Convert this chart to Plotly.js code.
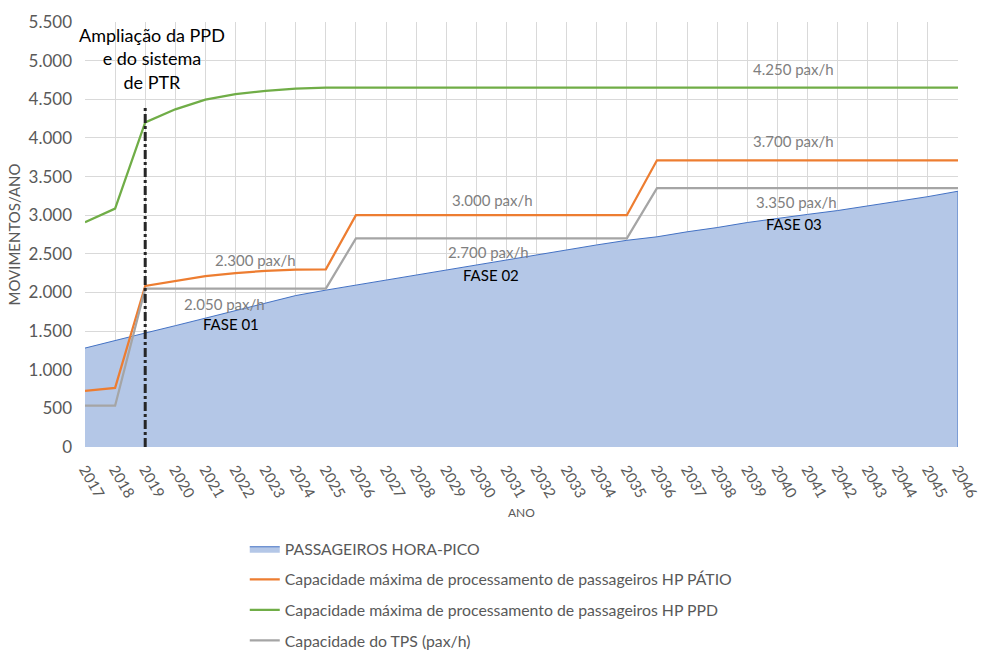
<!DOCTYPE html>
<html><head><meta charset="utf-8">
<script src="https://cdn.plot.ly/plotly-3.0.1.min.js"></script>
<style>html,body{margin:0;padding:0;background:#fff}#chart{width:989px;height:662px}</style>
</head><body><div id="chart"></div>
<script>
const years = [2017,2018,2019,2020,2021,2022,2023,2024,2025,2026,2027,2028,2029,2030,2031,2032,2033,2034,2035,2036,2037,2038,2039,2040,2041,2042,2043,2044,2045,2046];
const passageiros = [1280,1380,1475,1570,1665,1760,1860,1960,2030,2095,2160,2225,2290,2360,2425,2490,2555,2615,2675,2720,2785,2840,2905,2960,3010,3060,3120,3185,3240,3310];
const patio = [725,765,2085,2150,2210,2250,2280,2295,2300,3000,3000,3000,3000,3000,3000,3000,3000,3000,3000,3710,3710,3710,3710,3710,3710,3710,3710,3710,3710,3710];
const ppd = [2910,3085,4200,4370,4495,4568,4610,4637,4650,4650,4650,4650,4650,4650,4650,4650,4650,4650,4650,4650,4650,4650,4650,4650,4650,4650,4650,4650,4650,4650];
const tps = [535,535,2050,2050,2050,2050,2050,2050,2050,2700,2700,2700,2700,2700,2700,2700,2700,2700,2700,3350,3350,3350,3350,3350,3350,3350,3350,3350,3350,3350];
const seriesNames = ["PASSAGEIROS HORA-PICO","Capacidade máxima de processamento de passageiros HP PÁTIO","Capacidade máxima de processamento de passageiros HP PPD","Capacidade do TPS (pax/h)"];
const labels = [
  {text:"2.300 pax/h", x:2022.65, y:2420, color:"#7f7f7f"},
  {text:"2.050 pax/h", x:2021.65, y:1850, color:"#7f7f7f"},
  {text:"FASE 01", x:2021.85, y:1590, color:"#000000"},
  {text:"3.000 pax/h", x:2030.52, y:3196, color:"#7f7f7f"},
  {text:"2.700 pax/h", x:2030.39, y:2523, color:"#7f7f7f"},
  {text:"FASE 02", x:2030.49, y:2226, color:"#000000"},
  {text:"4.250 pax/h", x:2040.52, y:4891, color:"#7f7f7f"},
  {text:"3.700 pax/h", x:2040.55, y:3960, color:"#7f7f7f"},
  {text:"3.350 pax/h", x:2040.65, y:3170, color:"#7f7f7f"},
  {text:"FASE 03", x:2040.55, y:2886, color:"#000000"}
];
const eventYear = 2019;
const eventTop = 4400;
const eventText = "Ampliação da PPD<br>e do sistema<br>de PTR";

const FONT = "Lato, 'Open Sans', sans-serif";
const traces = [
  {x:years, y:passageiros, name:seriesNames[0], type:"scatter", mode:"lines", fill:"tozeroy",
   fillcolor:"rgba(180,199,231,1)", line:{color:"#4472c4", width:1}, legendgroup:"a"},
  {x:years, y:patio, name:seriesNames[1], type:"scatter", mode:"lines", line:{color:"#ed7d31", width:2.25}, legendgroup:"b"},
  {x:years, y:ppd, name:seriesNames[2], type:"scatter", mode:"lines", line:{color:"#70ad47", width:2.25}, legendgroup:"c"},
  {x:years, y:tps, name:seriesNames[3], type:"scatter", mode:"lines", line:{color:"#a5a5a5", width:2.25}, legendgroup:"d"}
];
const annotations = labels.map(l => ({text:l.text, x:l.x, y:l.y, xref:"x", yref:"y", showarrow:false,
  font:{family:FONT, size:15, color:l.color}}));
annotations.push({text:eventText, x:eventYear+0.23, y:5034, xref:"x", yref:"y", showarrow:false,
  font:{family:FONT, size:18, color:"#000"}, align:"center"});
annotations.push({text:"ANO", x:0.5, y:-0.153, xref:"paper", yref:"paper", yanchor:"middle", showarrow:false,
  font:{family:FONT, size:12, color:"#595959"}});
const layout = {
  width:989, height:662,
  margin:{l:85, r:31, t:22, b:215, autoexpand:false},
  paper_bgcolor:"#fff", plot_bgcolor:"#fff",
  separators:",.",
  font:{family:FONT, color:"#595959"},
  showlegend:true,
  legend:{x:0.183, y:(662-532)/662, yref:"container", xanchor:"left", yanchor:"top", orientation:"v", traceorder:"grouped",
    tracegroupgap:7, font:{family:FONT, size:15.8, color:"#595959"}},
  xaxis:{range:[2017,2046], tickmode:"array", tickvals:years, ticktext:years.map(String), tickangle:60,
    showgrid:true, gridcolor:"#d9d9d9", zeroline:false, showline:false, ticks:"", automargin:false,
    ticklabelstandoff:10,
    tickfont:{family:FONT, size:15, color:"#595959"}},
  yaxis:{range:[0,5500], dtick:500, tickformat:",d", showgrid:true, gridcolor:"#d9d9d9", zeroline:false,
    showline:false, ticks:"", automargin:false, ticklabelstandoff:12,
    tickfont:{family:FONT, size:17, color:"#595959"},
    title:{text:"MOVIMENTOS/ANO", font:{family:FONT, size:15, color:"#595959"}, standoff:4}},
  shapes:[
    {type:"line", xref:"x", yref:"y", x0:eventYear, x1:eventYear, y0:0, y1:eventTop,
     line:{color:"#262626", width:3, dash:"dashdot"}},
    {type:"line", xref:"x", yref:"y", x0:years[years.length-1], x1:years[years.length-1], y0:0,
     y1:passageiros[passageiros.length-1], line:{color:"#4472c4", width:1}}
  ],
  annotations:annotations
};
Plotly.newPlot("chart", traces, layout, {displayModeBar:false, staticPlot:true});
</script></body></html>
